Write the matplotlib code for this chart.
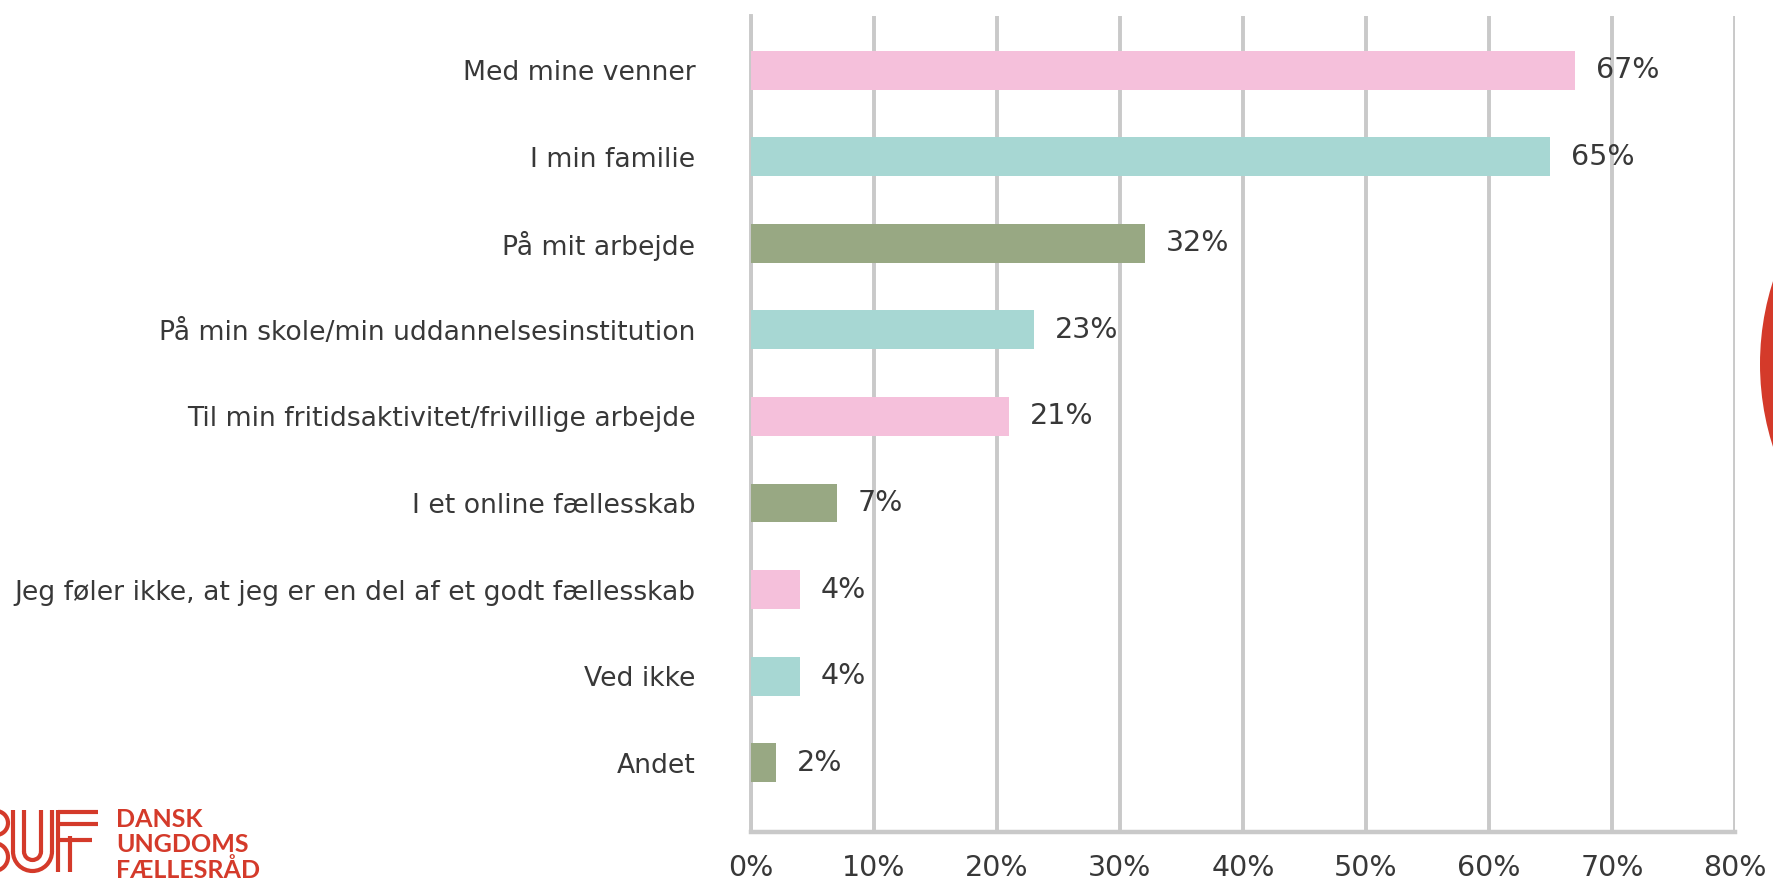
import matplotlib
matplotlib.use("Agg")
import matplotlib.pyplot as plt
from matplotlib.patches import Circle, Arc
import numpy as np

categories = [
    "Med mine venner",
    "I min familie",
    "På mit arbejde",
    "På min skole/min uddannelsesinstitution",
    "Til min fritidsaktivitet/frivillige arbejde",
    "I et online fællesskab",
    "Jeg føler ikke, at jeg er en del af et godt fællesskab",
    "Ved ikke",
    "Andet",
]
values = [67, 65, 32, 23, 21, 7, 4, 4, 2]
xticks = [0, 10, 20, 30, 40, 50, 60, 70, 80]

pink = "#f5c0db"
teal = "#a7d7d3"
green = "#98a883"
bar_colors = [pink, teal, green, teal, pink, green, pink, teal, green]
text_col = "#383838"
grid_col = "#c9c9c9"
red = "#d43a2a"

plt.rcParams['font.family'] = ['DejaVu Sans']

fig = plt.figure(figsize=(17.74, 8.83), dpi=100)
ax = fig.add_axes([751 / 1774, 1 - 832 / 883, (1735 - 751) / 1774, (832 - 16) / 883])

y = np.arange(len(categories))
ax.barh(y, values, height=0.45, color=bar_colors, zorder=3)

for yi, v in zip(y, values):
    ax.annotate(f"{v}%", (v, yi), xytext=(15, 0), textcoords="offset points",
                va="center", ha="left", fontsize=20.5, color=text_col)

ax.set_xlim(0, 80)
ax.set_ylim(8.80, -0.625)
ax.set_xticks(xticks)
ax.set_xticklabels([f"{t}%" for t in xticks], fontsize=20.5, color=text_col)
ax.set_yticks(y)
ax.set_yticklabels(categories, fontsize=19.2, color=text_col)
ax.tick_params(axis="x", length=0, pad=16)
ax.tick_params(axis="y", length=0, pad=40)

ax.grid(axis="x", color=grid_col, lw=2.8, zorder=0)
ax.set_axisbelow(True)
for s in ["top", "right"]:
    ax.spines[s].set_visible(False)
ax.spines["left"].set_color(grid_col)
ax.spines["left"].set_linewidth(2.8)
ax.spines["bottom"].set_color(grid_col)
ax.spines["bottom"].set_linewidth(3.2)

# overlay in pixel coordinates for the decorations
ov = fig.add_axes([0, 0, 1, 1], facecolor="none")
ov.set_xlim(0, 1774)
ov.set_ylim(883, 0)
ov.axis("off")

# red circle peeking in from the right edge
ov.add_patch(Circle((2031, 364), 271, color=red, lw=0))

# DUF logo, partly cut at the left edge
lw = 3.0
# S fragment
ov.add_patch(Arc((-4, 823), 24, 24, theta1=-90, theta2=90, color=red, lw=lw))
ov.add_patch(Arc((-6, 857), 28, 28, theta1=-90, theta2=90, color=red, lw=lw))
# U (two nested)
for r in [19.5, 8.5]:
    cx, cy = 32.5, 851.5
    ov.plot([cx - r, cx - r], [810, cy], color=red, lw=lw, solid_capstyle="butt")
    ov.plot([cx + r, cx + r], [810, cy], color=red, lw=lw, solid_capstyle="butt")
    ov.add_patch(Arc((cx, cy), 2 * r, 2 * r, theta1=0, theta2=180, color=red, lw=lw))
# F
ov.plot([58.5, 58.5], [810, 872], color=red, lw=lw, solid_capstyle="butt")
ov.plot([58.5, 98], [811.5, 811.5], color=red, lw=lw, solid_capstyle="butt")
ov.plot([58.5, 98], [824, 824], color=red, lw=lw, solid_capstyle="butt")
ov.plot([58.5, 92], [840, 840], color=red, lw=lw, solid_capstyle="butt")
ov.plot([70, 70], [836, 872], color=red, lw=lw, solid_capstyle="butt")

for i, word in enumerate(["DANSK", "UNGDOMS", "FÆLLESRÅD"]):
    ov.text(116, 827 + i * 25.5, word, color=red, fontsize=18, fontweight="bold",
            family="Lato", ha="left", va="baseline")

fig.savefig("out.png", dpi=100)
